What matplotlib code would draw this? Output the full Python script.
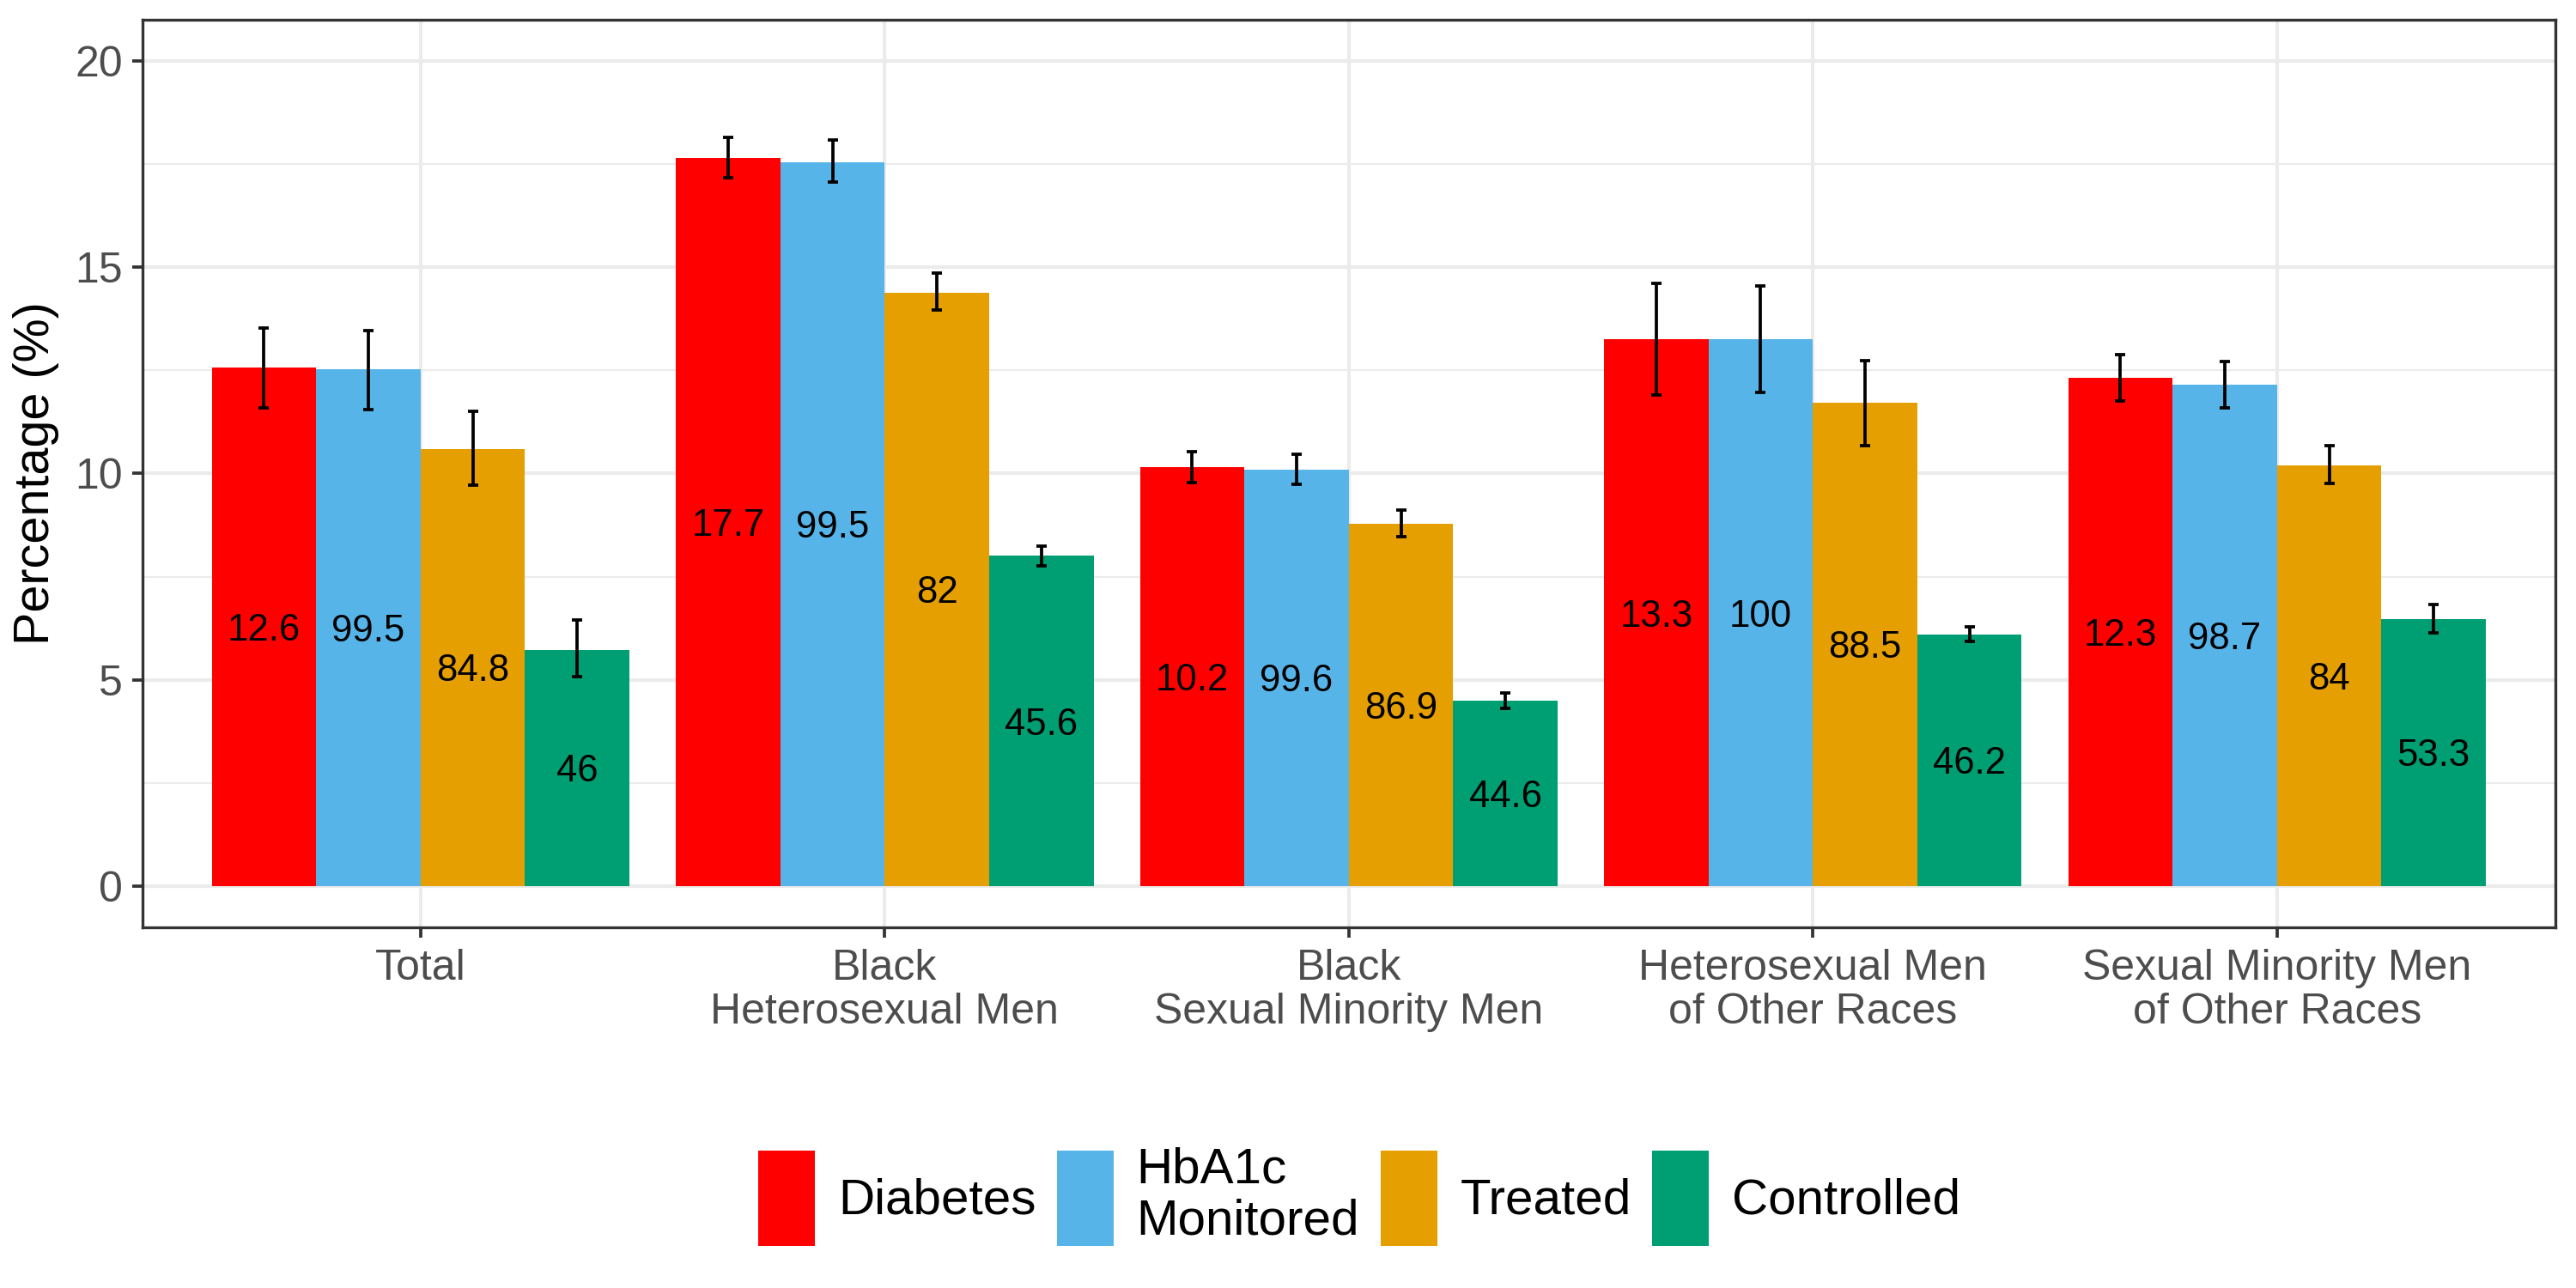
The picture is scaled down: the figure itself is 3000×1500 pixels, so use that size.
import numpy as np
import matplotlib
matplotlib.use("Agg")
import matplotlib.pyplot as plt
from matplotlib.ticker import MultipleLocator

plt.rcParams['font.family'] = ['Liberation Sans', 'DejaVu Sans']

# groups on the x axis
groups = ["Total", "Black\nHeterosexual Men", "Black\nSexual Minority Men",
          "Heterosexual Men\nof Other Races", "Sexual Minority Men\nof Other Races"]
series = ["Diabetes", "HbA1c\nMonitored", "Treated", "Controlled"]
colors = ["#FF0000", "#56B4E9", "#E69F00", "#009E73"]

# bar heights (%)
diabetes = [12.58, 17.64, 10.15, 13.25, 12.33]
hba1c = [12.52, 17.55, 10.10, 13.25, 12.15]
treated = [10.60, 14.38, 8.78, 11.72, 10.20]
controlled = [5.73, 8.01, 4.50, 6.10, 6.48]

# confidence intervals
diabetes_lo = [11.60, 17.16, 9.78, 11.91, 11.76]
diabetes_hi = [13.52, 18.14, 10.52, 14.60, 12.88]
hba1c_lo = [11.54, 17.06, 9.74, 11.97, 11.59]
hba1c_hi = [13.46, 18.08, 10.47, 14.54, 12.71]
treated_lo = [9.71, 13.96, 8.46, 10.68, 9.75]
treated_hi = [11.50, 14.86, 9.11, 12.74, 10.67]
controlled_lo = [5.08, 7.77, 4.31, 5.94, 6.14]
controlled_hi = [6.45, 8.24, 4.69, 6.29, 6.83]

# text printed inside bars
diabetes_lab = ["12.6", "17.7", "10.2", "13.3", "12.3"]
hba1c_lab = ["99.5", "99.5", "99.6", "100", "98.7"]
treated_lab = ["84.8", "82", "86.9", "88.5", "84"]
controlled_lab = ["46", "45.6", "44.6", "46.2", "53.3"]

heights = [diabetes, hba1c, treated, controlled]
lows = [diabetes_lo, hba1c_lo, treated_lo, controlled_lo]
highs = [diabetes_hi, hba1c_hi, treated_hi, controlled_hi]
labs = [diabetes_lab, hba1c_lab, treated_lab, controlled_lab]

fig = plt.figure(figsize=(10, 5), dpi=300)
ax = fig.add_axes([0.0552, 0.28, 0.9368, 0.7047])

x = np.arange(1, len(groups) + 1)
bw = 0.225
handles = []
for i in range(4):
    xs = x + (i - 1.5) * bw
    h = np.array(heights[i])
    b = ax.bar(xs, h, width=bw, color=colors[i], zorder=2, label=series[i])
    handles.append(b)
    err = [h - np.array(lows[i]), np.array(highs[i]) - h]
    ax.errorbar(xs, h, yerr=err, fmt='none', ecolor='black', elinewidth=0.9,
                capsize=1.5, capthick=0.9, zorder=3)
    for xx, hh, t in zip(xs, h, labs[i]):
        ax.text(xx, hh / 2, t, ha='center', va='center_baseline', fontsize=10.5,
                color='black', zorder=4)

ax.set_xlim(0.4, 5.6)
ax.set_ylim(-1, 21)
ax.set_xticks(x)
ax.set_xticklabels(groups, linespacing=1.14)
ax.yaxis.set_major_locator(MultipleLocator(5))
ax.yaxis.set_minor_locator(MultipleLocator(2.5))
ax.set_yticks([0, 5, 10, 15, 20])

ax.grid(True, which='major', color='#EBEBEB', linewidth=1.0, zorder=0)
ax.grid(True, which='minor', axis='y', color='#EBEBEB', linewidth=0.5, zorder=0)
ax.set_axisbelow(True)

for s in ax.spines.values():
    s.set_color('#333333')
    s.set_linewidth(0.8)

ax.tick_params(which='major', length=2.9, width=0.9, color='#333333',
               labelcolor='#4D4D4D', labelsize=12, pad=2.5)
ax.tick_params(axis='x', pad=3.0)
ax.tick_params(which='minor', length=0)
ax.set_ylabel("Percentage (%)", fontsize=13.8, color='black', labelpad=4.5)

leg = fig.legend(handles, series, loc='center', bbox_to_anchor=(0.5277, 0.0713),
                 ncol=4, frameon=False, fontsize=14, handlelength=1.13,
                 handleheight=2.55, handletextpad=0.46, columnspacing=0.42)
for t in leg.get_texts():
    t.set_linespacing(1.15)

fig.savefig("out.png", dpi=300)
